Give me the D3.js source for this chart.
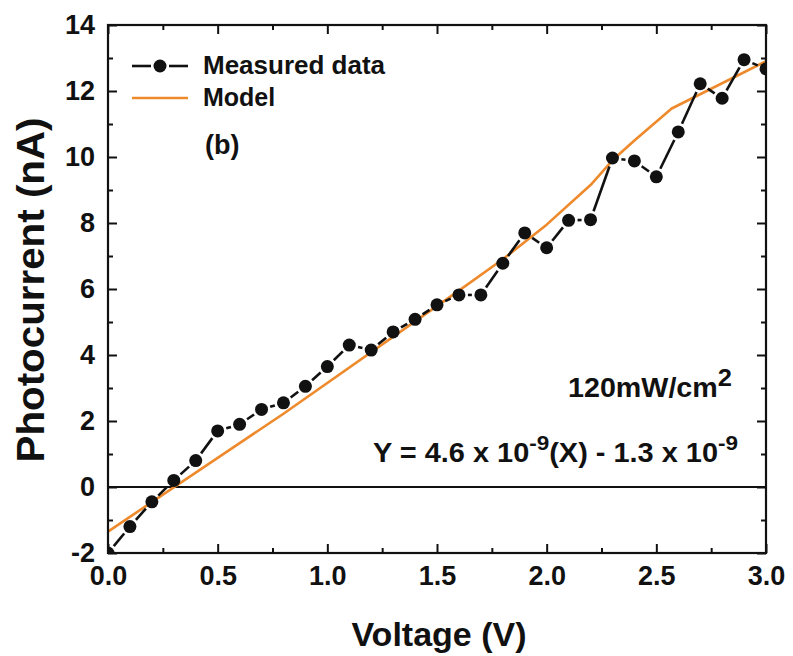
<!DOCTYPE html>
<html>
<head>
<meta charset="utf-8">
<script src="https://cdn.jsdelivr.net/npm/d3@7"></script>
<style>
  body { margin: 0; background: #ffffff; }
  text { font-family: "Liberation Sans", Arial, sans-serif; font-weight: bold; fill: #111; }
</style>
</head>
<body>
<svg id="chart" width="793" height="656"></svg>
<script>
// Measured photocurrent vs. bias voltage
const voltage = [0.0, 0.1, 0.2, 0.3, 0.4, 0.5, 0.6, 0.7, 0.8, 0.9, 1.0,
                 1.1, 1.2, 1.3, 1.4, 1.5, 1.6, 1.7, 1.8, 1.9, 2.0,
                 2.1, 2.2, 2.3, 2.4, 2.5, 2.6, 2.7, 2.8, 2.9, 3.0];
const photocurrent = [-2.0, -1.2, -0.45, 0.2, 0.8, 1.7, 1.9, 2.35, 2.55, 3.05, 3.65,
                      4.3, 4.15, 4.7, 5.08, 5.52, 5.82, 5.82, 6.78, 7.7, 7.25,
                      8.08, 8.1, 9.97, 9.88, 9.4, 10.76, 12.22, 11.78, 12.95, 12.67];

// Model curve vertices
const modelVoltage = [0.0, 0.8, 1.6, 1.8, 2.0, 2.2, 2.3, 2.4, 2.57, 3.0];
const modelCurrent = [-1.35, 2.22, 5.95, 6.9, 7.95, 9.15, 9.9, 10.5, 11.47, 12.9];

// Axis ticks
const xMajorTicks = [0, 0.5, 1.0, 1.5, 2.0, 2.5, 3.0];
const xMinorTicks = [0.25, 0.75, 1.25, 1.75, 2.25, 2.75];
const yMajorTicks = [-2, 0, 2, 4, 6, 8, 10, 12, 14];
const yMinorTicks = [-1, 1, 3, 5, 7, 9, 11, 13];

const seriesNames = ["Measured data", "Model"];
const seriesColors = ["#111111", "#ee8a2c"];

const svg = d3.select("#chart");
const plotL = 108, plotR = 766, plotT = 25, plotB = 553;

const x = d3.scaleLinear().domain([0, 3]).range([plotL, plotR]);
const y = d3.scaleLinear().domain([-2, 14]).range([plotB, plotT]);

svg.append("rect").attr("width", 793).attr("height", 656).attr("fill", "#fff");

svg.append("defs").append("clipPath").attr("id", "plotClip")
  .append("rect").attr("x", plotL).attr("y", plotT)
  .attr("width", plotR - plotL).attr("height", plotB - plotT);

// zero line
svg.append("line")
  .attr("x1", plotL).attr("x2", plotR)
  .attr("y1", y(0)).attr("y2", y(0))
  .attr("stroke", "#111").attr("stroke-width", 2);

const plot = svg.append("g").attr("clip-path", "url(#plotClip)");

// model line
const modelPts = modelVoltage.map((v, i) => [v, modelCurrent[i]]);
plot.append("path")
  .datum(modelPts)
  .attr("fill", "none")
  .attr("stroke", seriesColors[1])
  .attr("stroke-width", 2.6)
  .attr("stroke-linejoin", "round")
  .attr("d", d3.line().x(d => x(d[0])).y(d => y(d[1])));

// measured line segments with gaps around markers
const r = 6.5, gap = 9;
const measPts = voltage.map((v, i) => [x(v), y(photocurrent[i])]);
const segs = [];
for (let i = 0; i < measPts.length - 1; i++) {
  const [x1, y1] = measPts[i], [x2, y2] = measPts[i + 1];
  const dx = x2 - x1, dy = y2 - y1, L = Math.hypot(dx, dy);
  if (L > 2 * gap + 1) {
    const ux = dx / L, uy = dy / L;
    segs.push([x1 + ux * gap, y1 + uy * gap, x2 - ux * gap, y2 - uy * gap]);
  }
}
plot.selectAll("line.seg").data(segs).join("line")
  .attr("class", "seg")
  .attr("x1", d => d[0]).attr("y1", d => d[1])
  .attr("x2", d => d[2]).attr("y2", d => d[3])
  .attr("stroke", seriesColors[0]).attr("stroke-width", 2.6);

plot.selectAll("circle.pt").data(voltage).join("circle")
  .attr("class", "pt")
  .attr("cx", d => x(d))
  .attr("cy", (d, i) => y(photocurrent[i]))
  .attr("r", r)
  .attr("fill", seriesColors[0]);

// axes (inward ticks on all four sides)
const fmtX = d3.format(".1f");
const fmtY = d => String(d);
const axFont = g => g.selectAll("text")
  .style("font-family", '"Liberation Sans", Arial, sans-serif')
  .style("font-weight", "bold").style("font-size", "27px").attr("fill", "#111");
const axLine = g => { g.select(".domain").remove(); g.selectAll("line").attr("stroke", "#111").attr("stroke-width", 2); };

svg.append("g").attr("transform", `translate(0,${plotB})`)
  .call(d3.axisBottom(x).tickValues(xMajorTicks).tickFormat(fmtX).tickSizeInner(-9).tickSizeOuter(0).tickPadding(13))
  .call(axLine).call(axFont);
svg.append("g").attr("transform", `translate(0,${plotB})`)
  .call(d3.axisBottom(x).tickValues(xMinorTicks).tickFormat("").tickSizeInner(-5).tickSizeOuter(0))
  .call(axLine);
svg.append("g").attr("transform", `translate(0,${plotT})`)
  .call(d3.axisTop(x).tickValues(xMajorTicks).tickFormat("").tickSizeInner(-9).tickSizeOuter(0))
  .call(axLine);
svg.append("g").attr("transform", `translate(0,${plotT})`)
  .call(d3.axisTop(x).tickValues(xMinorTicks).tickFormat("").tickSizeInner(-5).tickSizeOuter(0))
  .call(axLine);

svg.append("g").attr("transform", `translate(${plotL},0)`)
  .call(d3.axisLeft(y).tickValues(yMajorTicks).tickFormat(fmtY).tickSizeInner(-9).tickSizeOuter(0).tickPadding(13))
  .call(axLine).call(axFont);
svg.append("g").attr("transform", `translate(${plotL},0)`)
  .call(d3.axisLeft(y).tickValues(yMinorTicks).tickFormat("").tickSizeInner(-5).tickSizeOuter(0))
  .call(axLine);
svg.append("g").attr("transform", `translate(${plotR},0)`)
  .call(d3.axisRight(y).tickValues(yMajorTicks).tickFormat("").tickSizeInner(-9).tickSizeOuter(0))
  .call(axLine);
svg.append("g").attr("transform", `translate(${plotR},0)`)
  .call(d3.axisRight(y).tickValues(yMinorTicks).tickFormat("").tickSizeInner(-5).tickSizeOuter(0))
  .call(axLine);

// frame
svg.append("rect")
  .attr("x", plotL).attr("y", plotT)
  .attr("width", plotR - plotL).attr("height", plotB - plotT)
  .attr("fill", "none").attr("stroke", "#111").attr("stroke-width", 2.2);

// axis titles
svg.append("text")
  .attr("x", 439).attr("y", 646)
  .attr("text-anchor", "middle")
  .style("font-size", "34px")
  .text("Voltage (V)");

svg.append("text")
  .attr("transform", "translate(44,290) rotate(-90)")
  .attr("text-anchor", "middle")
  .attr("textLength", 345).attr("lengthAdjust", "spacingAndGlyphs")
  .style("font-size", "38px")
  .text("Photocurrent (nA)");

// legend
const lg = svg.append("g");
lg.append("line").attr("x1", 132).attr("x2", 151).attr("y1", 66).attr("y2", 66)
  .attr("stroke", seriesColors[0]).attr("stroke-width", 2.6);
lg.append("line").attr("x1", 169).attr("x2", 188).attr("y1", 66).attr("y2", 66)
  .attr("stroke", seriesColors[0]).attr("stroke-width", 2.6);
lg.append("circle").attr("cx", 160).attr("cy", 66).attr("r", r).attr("fill", seriesColors[0]);
lg.append("line").attr("x1", 132).attr("x2", 188).attr("y1", 98).attr("y2", 98)
  .attr("stroke", seriesColors[1]).attr("stroke-width", 2.6);
lg.append("text").attr("x", 203).attr("y", 74).style("font-size", "25px")
  .attr("textLength", 182).attr("lengthAdjust", "spacingAndGlyphs").text(seriesNames[0]);
lg.append("text").attr("x", 203).attr("y", 106).style("font-size", "25px").text(seriesNames[1]);

svg.append("text").attr("x", 205).attr("y", 154).style("font-size", "27px").text("(b)");

// annotations
const ann1 = svg.append("text").attr("x", 568).attr("y", 397).style("font-size", "27px")
  .attr("textLength", 164).attr("lengthAdjust", "spacingAndGlyphs");
ann1.append("tspan").text("120mW/cm");
ann1.append("tspan").attr("dy", -11).style("font-size", "24px").text("2");

const eq = svg.append("text").attr("x", 373).attr("y", 462).style("font-size", "27px")
  .attr("textLength", 365).attr("lengthAdjust", "spacingAndGlyphs");
eq.append("tspan").text("Y = 4.6 x 10");
eq.append("tspan").attr("dy", -12).style("font-size", "21px").text("-9");
eq.append("tspan").attr("dy", 12).text("(X) - 1.3 x 10");
eq.append("tspan").attr("dy", -12).style("font-size", "21px").text("-9");
</script>
</body>
</html>
